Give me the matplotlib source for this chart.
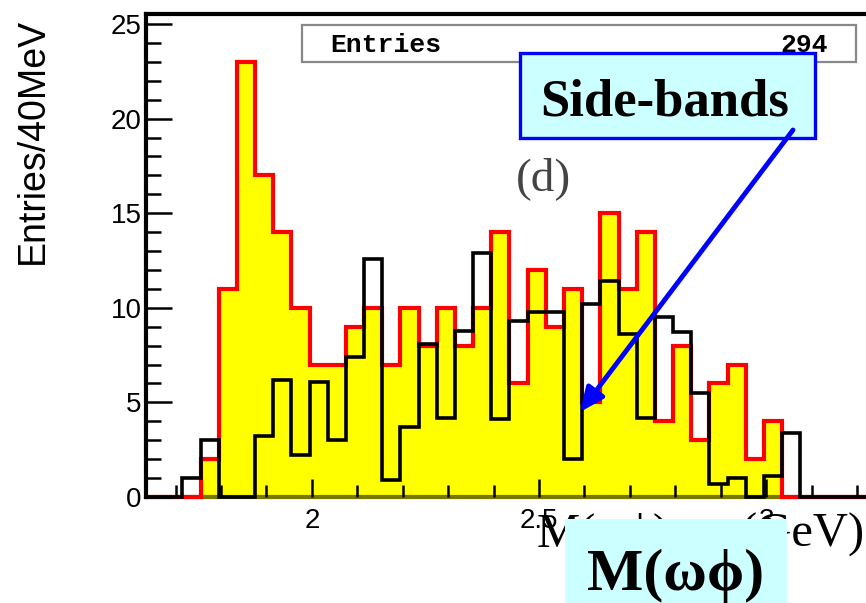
import matplotlib
matplotlib.use('Agg')
import matplotlib.pyplot as plt
import numpy as np
from matplotlib import font_manager
from matplotlib.patches import Rectangle, FancyArrowPatch, ArrowStyle
from matplotlib.ticker import MultipleLocator, FixedLocator, FixedFormatter

W, H = 866, 603

# histogram binning (40 MeV bins)
bin_lo = 1.635
bin_width = 0.04
n_bins = 40

# signal region (yellow) and scaled side-bands (black)
signal_counts = [0, 0, 0, 2, 11, 23, 17, 14, 10, 7,
                 7, 9, 10, 7, 10, 8, 10, 8, 10, 14,
                 6, 12, 9, 11, 5, 15, 11, 14, 4, 8,
                 3, 6, 7, 2, 4, 0, 0, 0, 0, 0]
sideband_counts = [0, 0, 1, 3, 0, 0, 3.2, 6.2, 2.2, 6.1,
                   3.0, 7.4, 12.6, 0.9, 3.7, 8.1, 4.2, 8.8, 12.9, 4.1,
                   9.3, 9.8, 9.8, 2.0, 10.2, 11.4, 8.6, 4.2, 9.5, 8.7,
                   5.5, 0.7, 1.0, 0, 1.1, 3.4, 0, 0, 0, 0]
n_entries = 294

x_ticks = [2, 2.5, 3]
x_tick_labels = ['2', '2.5', '3']
y_ticks = [0, 5, 10, 15, 20, 25]
y_tick_labels = ['0', '5', '10', '15', '20', '25']

plt.rcParams['font.family'] = ['Liberation Sans', 'DejaVu Sans']
serif = ['Liberation Serif', 'DejaVu Serif']

names = {f.name for f in font_manager.fontManager.ttflist}
if 'Liberation Sans Narrow' in names:
    ylab_font, ylab_size = 'Liberation Sans Narrow', 33
else:
    ylab_font, ylab_size = 'Liberation Sans', 27


def fx(x):
    return x / W


def fy(y):
    return 1 - y / H


edges = bin_lo + bin_width * np.arange(n_bins + 1)

fig = plt.figure(figsize=(W / 100, H / 100), dpi=100)
ax = fig.add_axes([fx(146), fy(497), (873 - 146) / W, (497 - 14) / H])

ax.stairs(signal_counts, edges, fill=True, color='#ffff00', zorder=1)
ax.stairs(signal_counts, edges, color='#ff0000', lw=3, zorder=1.5, clip_on=False)
ax.stairs(sideband_counts, edges, color='black', lw=2.6, zorder=2, clip_on=False)

ax.set_xlim(edges[0], edges[-1])
ax.set_ylim(0, 25.53)

ax.spines['right'].set_visible(False)
ax.spines['top'].set_linewidth(3)
ax.spines['left'].set_linewidth(3)
ax.spines['bottom'].set_linewidth(3)
ax.spines['bottom'].set_color('#777700')
ax.spines['bottom'].set_zorder(1.2)

ax.xaxis.set_major_locator(FixedLocator(x_ticks))
ax.xaxis.set_major_formatter(FixedFormatter(x_tick_labels))
ax.xaxis.set_minor_locator(MultipleLocator(0.1))
ax.yaxis.set_major_locator(FixedLocator(y_ticks))
ax.yaxis.set_major_formatter(FixedFormatter(y_tick_labels))
ax.yaxis.set_minor_locator(MultipleLocator(1))

ax.tick_params(axis='y', which='major', direction='in', length=19, width=1.8, labelsize=20, pad=3)
ax.tick_params(axis='y', which='minor', direction='in', length=10.5, width=1.8)
ax.tick_params(axis='x', which='major', direction='in', length=13, width=1.8, labelsize=20, pad=8)
ax.tick_params(axis='x', which='minor', direction='in', length=8.5, width=1.8)

# y axis title
fig.text(fx(33), fy(141), 'Entries/40MeV', rotation=90, ha='center', va='center',
         family=ylab_font, fontsize=ylab_size)

# x axis title, mostly hidden behind the label box
fig.text(fx(537), fy(547), 'M(ωϕ)', ha='left', va='baseline',
         family=serif, fontsize=35, zorder=1)
fig.text(fx(865), fy(547), '(GeV)', ha='right', va='baseline',
         family=serif, fontsize=35, zorder=1)

# stats box
fig.add_artist(Rectangle((fx(302), fy(62)), (856 - 302) / W, (62 - 25) / H,
                         transform=fig.transFigure, fc='white', ec='#888888', lw=1.6, zorder=2))
fig.text(fx(330), fy(52), 'Entries', ha='left', va='baseline', family='Liberation Mono',
         weight='bold', fontsize=19, zorder=3)
fig.text(fx(828), fy(52), str(n_entries), ha='right', va='baseline', family='Liberation Mono',
         weight='bold', fontsize=19, zorder=3)

fig.text(fx(544), fy(190), '(d)', ha='center', va='baseline', family=serif,
         fontsize=34, color='#444444', zorder=3)

# Side-bands label + arrow
fig.add_artist(Rectangle((fx(520), fy(138)), (815 - 520) / W, (138 - 53) / H,
                         transform=fig.transFigure, fc='#ccffff', ec='#0000ff', lw=2.4, zorder=4))
fig.text(fx(665), fy(115), 'Side-bands', ha='center', va='baseline', family=serif,
         weight='bold', fontsize=38, zorder=5)
fig.add_artist(FancyArrowPatch((fx(793), fy(130)), (fx(580), fy(412)), transform=fig.transFigure,
                               arrowstyle=ArrowStyle('-|>', head_length=0.9, head_width=0.4),
                               mutation_scale=16, lw=3.5, color='#0000ff',
                               shrinkA=0, shrinkB=0, zorder=6))

# M(omega phi) label box
fig.add_artist(Rectangle((fx(565), fy(606)), (787 - 565) / W, (606 - 519) / H,
                         transform=fig.transFigure, fc='#ccffff', ec='none', zorder=4))
fig.text(fx(676), fy(590), 'M(ωϕ)', ha='center', va='baseline', family=serif,
         weight='bold', fontsize=43, zorder=5)

fig.savefig('out.png', dpi=100)
